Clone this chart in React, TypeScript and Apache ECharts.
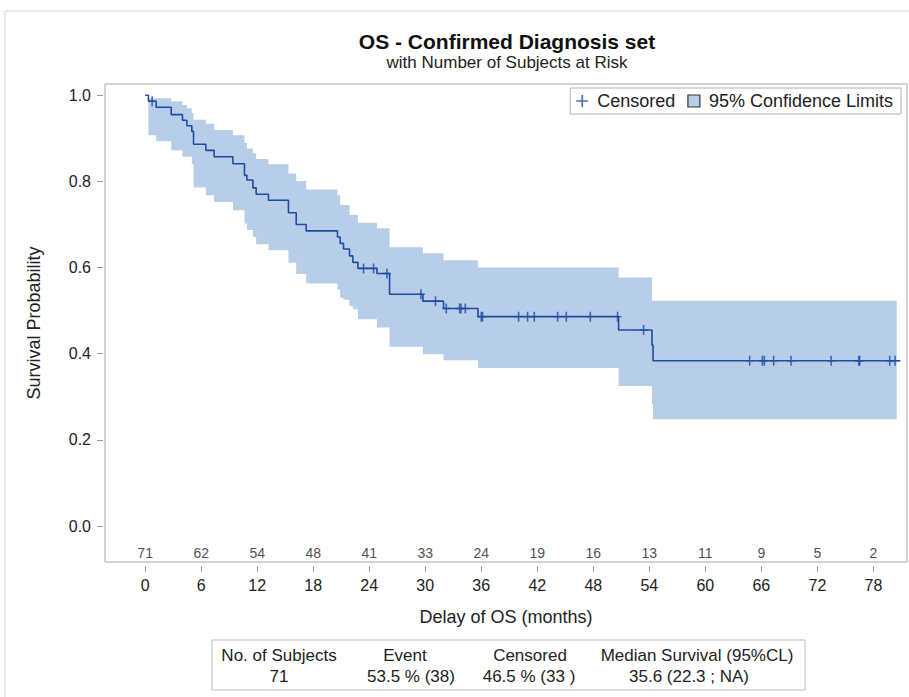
import React, { useEffect, useRef } from "react";
import * as echarts from "echarts";

// ---- data ----
const xTicks = [0, 6, 12, 18, 24, 30, 36, 42, 48, 54, 60, 66, 72, 78];
const atRisk = [71, 62, 54, 48, 41, 33, 24, 19, 16, 13, 11, 9, 5, 2];
const yTicks = [0, 0.2, 0.4, 0.6, 0.8, 1.0];

// Kaplan-Meier step times and survival after each step
const kmT = [0, 0.35, 1.18, 2.79, 4.0, 4.47, 5.0, 5.18, 6.5, 7.39, 9.4, 10.64, 10.9, 11.54, 11.89, 13.21, 15.35, 16.18, 17.25, 20.6, 20.89, 21.25, 21.89, 22.25, 22.79, 24.83, 26.18, 29.75, 31.96, 35.65, 50.71, 54.29, 54.4, 80.9];
const kmS = [1.0, 0.986, 0.972, 0.955, 0.942, 0.929, 0.916, 0.886, 0.872, 0.857, 0.841, 0.814, 0.803, 0.785, 0.77, 0.756, 0.727, 0.7, 0.685, 0.671, 0.656, 0.643, 0.627, 0.612, 0.598, 0.586, 0.538, 0.522, 0.505, 0.486, 0.455, 0.42, 0.3835, 0.3835];

// 95% confidence band (start of each interval, upper, lower); last time closes the band
const bandT = [0.35, 1.18, 2.79, 4.0, 4.47, 5.0, 5.18, 6.5, 7.39, 9.4, 10.64, 10.9, 11.54, 11.89, 13.21, 15.35, 16.18, 17.25, 20.6, 20.89, 21.25, 21.89, 22.25, 22.79, 24.83, 26.18, 29.75, 31.96, 35.65, 50.71, 54.29, 54.4, 80.5];
const bandU = [0.993, 0.993, 0.986, 0.977, 0.97, 0.958, 0.943, 0.934, 0.919, 0.907, 0.889, 0.876, 0.865, 0.852, 0.84, 0.818, 0.801, 0.781, 0.768, 0.745, 0.745, 0.722, 0.722, 0.704, 0.691, 0.647, 0.633, 0.617, 0.6, 0.577, 0.523, 0.523];
const bandL = [0.907, 0.893, 0.872, 0.857, 0.857, 0.84, 0.786, 0.768, 0.752, 0.733, 0.702, 0.687, 0.671, 0.654, 0.64, 0.611, 0.585, 0.563, 0.549, 0.53, 0.525, 0.51, 0.503, 0.48, 0.461, 0.416, 0.399, 0.385, 0.367, 0.325, 0.283, 0.248];

// censored observations
const censorT = [0.75, 23.39, 24.46, 25.9, 29.54, 31.1, 32.25, 33.68, 33.83, 34.29, 36.0, 36.14, 40.0, 40.96, 41.68, 44.18, 45.11, 47.68, 50.6, 53.39, 64.75, 66.11, 66.32, 67.32, 69.18, 73.47, 76.43, 76.53, 79.75, 80.32];
const censorS = [0.986, 0.598, 0.598, 0.586, 0.538, 0.522, 0.505, 0.505, 0.505, 0.505, 0.486, 0.486, 0.486, 0.486, 0.486, 0.486, 0.486, 0.486, 0.486, 0.455, 0.3835, 0.3835, 0.3835, 0.3835, 0.3835, 0.3835, 0.3835, 0.3835, 0.3835, 0.3835];

const tableHeaders = ["No. of Subjects", "Event", "Censored", "Median Survival (95%CL)"];
const tableValues = ["71", "53.5 % (38)", "46.5 % (33 )", "35.6 (22.3 ; NA)"];

const FONT = "'Liberation Sans', Arial, Helvetica, sans-serif";
const LINE = "#1f4ca3";
const BAND = "#b8cee8";
const TXT = "#222";
const AXC = "#9a9a9a";

export default function App() {
  const ref = useRef<HTMLDivElement>(null);

  useEffect(() => {
    if (!ref.current) return;
    const chart = echarts.init(ref.current, null, { renderer: "svg" });
    const atRiskY = -0.062;
    const headX = [279, 405, 530, 697];
    const valX = [279, 411, 529, 689];

    const option: any = {
      animation: false,
      textStyle: { fontFamily: FONT },
      grid: {
        left: 105,
        top: 84,
        right: 2,
        bottom: 135,
        show: true,
        borderColor: "#a6a6a6",
        borderWidth: 1,
        backgroundColor: "transparent",
      },
      legend: {
        right: 8,
        top: 88,
        selectedMode: false,
        borderColor: "#b0b0b0",
        borderWidth: 1,
        padding: [4, 8, 4, 6],
        itemGap: 12,
        itemWidth: 12,
        itemHeight: 12,
        textStyle: { fontSize: 18, color: TXT, fontFamily: FONT, padding: [0, 0, 0, 4] },
        data: [
          {
            name: "Censored",
            icon: "path://M4.3,0h1.4v10h-1.4z M0,4.3h10v1.4h-10z",
            itemStyle: { color: LINE },
          },
          {
            name: "95% Confidence Limits",
            icon: "rect",
            itemStyle: { color: BAND, borderColor: "#333", borderWidth: 1.2 },
          },
        ],
      },
      xAxis: {
        type: "value",
        min: -4.3,
        max: 81.6,
        offset: 4,
        name: "Delay of OS (months)",
        nameLocation: "middle",
        nameGap: 42,
        nameTextStyle: { fontSize: 18, color: TXT, fontFamily: FONT },
        axisLine: { show: false, onZero: false },
        axisTick: { show: true, customValues: xTicks, length: 6, lineStyle: { color: AXC } },
        axisLabel: { customValues: xTicks, fontSize: 16, color: TXT, margin: 11, fontFamily: FONT },
        splitLine: { show: false },
      },
      yAxis: {
        type: "value",
        min: -0.0835,
        max: 1.026,
        offset: 2,
        name: "Survival Probability",
        nameLocation: "middle",
        nameGap: 60,
        nameTextStyle: { fontSize: 18, color: TXT, fontFamily: FONT },
        axisLine: { show: false, onZero: false },
        axisTick: { show: true, customValues: yTicks, length: 6, lineStyle: { color: AXC } },
        axisLabel: {
          customValues: yTicks,
          fontSize: 16,
          color: TXT,
          margin: 12,
          fontFamily: FONT,
          formatter: (v: number) => v.toFixed(1),
        },
        splitLine: { show: false },
      },
      series: [
        {
          name: "95% Confidence Limits",
          type: "custom",
          z: 1,
          silent: true,
          itemStyle: { color: BAND },
          data: [[0, 0]],
          renderItem: (params: any, api: any) => {
            if (params.dataIndex !== 0) return null;
            const pts: number[][] = [];
            for (let i = 0; i < bandU.length; i++) {
              pts.push(api.coord([bandT[i], bandU[i]]));
              pts.push(api.coord([bandT[i + 1], bandU[i]]));
            }
            for (let i = bandL.length - 1; i >= 0; i--) {
              pts.push(api.coord([bandT[i + 1], bandL[i]]));
              pts.push(api.coord([bandT[i], bandL[i]]));
            }
            return { type: "polygon", shape: { points: pts }, style: { fill: BAND } };
          },
        },
        {
          name: "Survival",
          type: "line",
          step: "end",
          z: 3,
          silent: true,
          showSymbol: false,
          symbol: "none",
          lineStyle: { color: LINE, width: 1.6 },
          itemStyle: { color: LINE },
          data: kmT.map((t, i) => [t, kmS[i]]),
        },
        {
          name: "Censored",
          type: "scatter",
          z: 4,
          silent: true,
          symbol: "path://M3.2,0h1.6v10h-1.6z M0,4.3h8v1.4h-8z",
          symbolSize: [8, 10],
          itemStyle: { color: LINE },
          data: censorT.map((t, i) => [t, censorS[i]]),
        },
        {
          name: "atRisk",
          type: "scatter",
          z: 5,
          silent: true,
          symbolSize: 1,
          itemStyle: { color: "transparent" },
          label: {
            show: true,
            position: "inside",
            fontSize: 14,
            color: "#1a1a1a",
            fontFamily: FONT,
            formatter: (p: any) => String(p.value[2]),
          },
          data: xTicks.map((t, i) => [t, atRiskY, atRisk[i]]),
        },
      ],
      graphic: [
        {
          type: "rect",
          silent: true,
          shape: { x: 5, y: 11, width: 930, height: 720 },
          style: { fill: "none", stroke: "#d4d4d4", lineWidth: 1 },
          z: -10,
        },
        {
          type: "text",
          x: 507,
          y: 41,
          style: {
            text: "OS - Confirmed Diagnosis set",
            fontSize: 21,
            fontWeight: "bold",
            fontFamily: FONT,
            fill: "#111",
            textAlign: "center",
            textVerticalAlign: "middle",
          },
        },
        {
          type: "text",
          x: 507,
          y: 62,
          style: {
            text: "with Number of Subjects at Risk",
            fontSize: 17,
            fontFamily: FONT,
            fill: TXT,
            textAlign: "center",
            textVerticalAlign: "middle",
          },
        },
        {
          type: "rect",
          silent: true,
          shape: { x: 212, y: 640, width: 593, height: 50 },
          style: { fill: "#fff", stroke: "#bdbdbd", lineWidth: 1 },
        },
        ...tableHeaders.map((h, i) => ({
          type: "text",
          x: headX[i],
          y: 655,
          style: {
            text: h,
            fontSize: 17,
            fontFamily: FONT,
            fill: TXT,
            textAlign: "center",
            textVerticalAlign: "middle",
          },
        })),
        ...tableValues.map((v, i) => ({
          type: "text",
          x: valX[i],
          y: 676,
          style: {
            text: v,
            fontSize: 17,
            fontFamily: FONT,
            fill: TXT,
            textAlign: "center",
            textVerticalAlign: "middle",
          },
        })),
      ],
    };

    chart.setOption(option);
    return () => chart.dispose();
  }, []);

  return (
    <div
      ref={ref}
      style={{ position: "fixed", left: 0, top: 0, width: 909, height: 697, background: "#fff" }}
    />
  );
}
